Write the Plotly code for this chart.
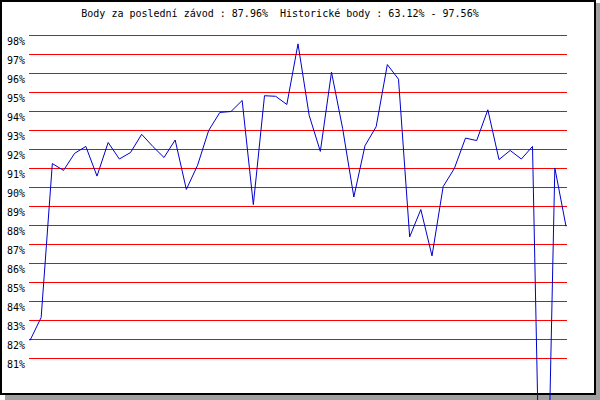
import plotly.graph_objects as go

# Race scores (%) in chronological order
scores = [81.95, 83.16, 91.26, 90.9, 91.8, 92.16, 90.6, 92.37, 91.5, 91.84,
          92.8, 92.16, 91.58, 92.5, 89.9, 91.16, 93.0, 93.95, 94.0, 94.58,
          89.1, 94.83, 94.8, 94.37, 97.56, 93.8, 91.9, 96.07, 93.1, 89.5,
          92.2, 93.2, 96.47, 95.7, 87.4, 88.84, 86.4, 90.05, 91.0, 92.6,
          92.47, 94.09, 91.47, 91.95, 91.5, 92.16, 63.12, 91.03, 87.96]
races = list(range(len(scores)))
tick_values = list(range(81, 99))
tick_labels = [f"{v}%" for v in tick_values]
title_text = ("Body za poslední závod : 87.96%\u00a0\u00a0Historické body : "
              "63.12% - 97.56%")

W, H = 600, 400
L, R, T, B = 29, 33, 30, 0
PW, PH = W - L - R, H - T - B


def px(x):
    return (x - L) / PW


def py(y):
    return 1 - (y - T) / PH


FONT = dict(family="DejaVu Sans Mono", size=10, color="black")

fig = go.Figure()
fig.add_trace(go.Scatter(x=races, y=scores, mode="lines",
                         line=dict(color="#0000CC", width=1),
                         hoverinfo="skip", showlegend=False))

# 98% sits on pixel row 35, 19 px per percent
top_val = 98 + (35.5 - T) / 19.0
bot_val = top_val - PH / 19.0

fig.update_layout(
    width=W, height=H,
    margin=dict(l=L, r=R, t=T, b=B, pad=0),
    paper_bgcolor="white",
    plot_bgcolor="rgba(0,0,0,0)",
    title=dict(text=title_text, x=280 / W, xanchor="center",
               y=1 - 13 / H, yanchor="middle", font=FONT),
    xaxis=dict(range=[(29 - 30) / 11.1667, (567 - 30) / 11.1667],
               showgrid=False, zeroline=False, showticklabels=False,
               showline=False, ticks=""),
    yaxis=dict(range=[bot_val, top_val],
               tickvals=tick_values, ticktext=tick_labels,
               showgrid=True, gridcolor="#FF0000", gridwidth=1,
               zeroline=False, showline=False, ticks="",
               tickfont=FONT, ticklabelshift=6, ticklabelstandoff=3),
    shapes=[
        dict(type="rect", xref="paper", yref="paper",
             x0=px(596), x1=px(600), y0=py(3), y1=py(400),
             fillcolor="#A0A0A0", line=dict(width=0), layer="below"),
        dict(type="rect", xref="paper", yref="paper",
             x0=px(5), x1=px(600), y0=py(395), y1=py(400),
             fillcolor="#A0A0A0", line=dict(width=0), layer="below"),
        dict(type="rect", xref="paper", yref="paper",
             x0=px(1), x1=px(595), y0=py(1), y1=py(394),
             fillcolor="rgba(0,0,0,0)", line=dict(color="black", width=2),
             layer="below"),
    ],
)

fig.write_html("out.html",
               config={"displayModeBar": False, "staticPlot": True},
               post_script="document.body.style.margin='0';"
                           "document.body.style.overflow='hidden';")
